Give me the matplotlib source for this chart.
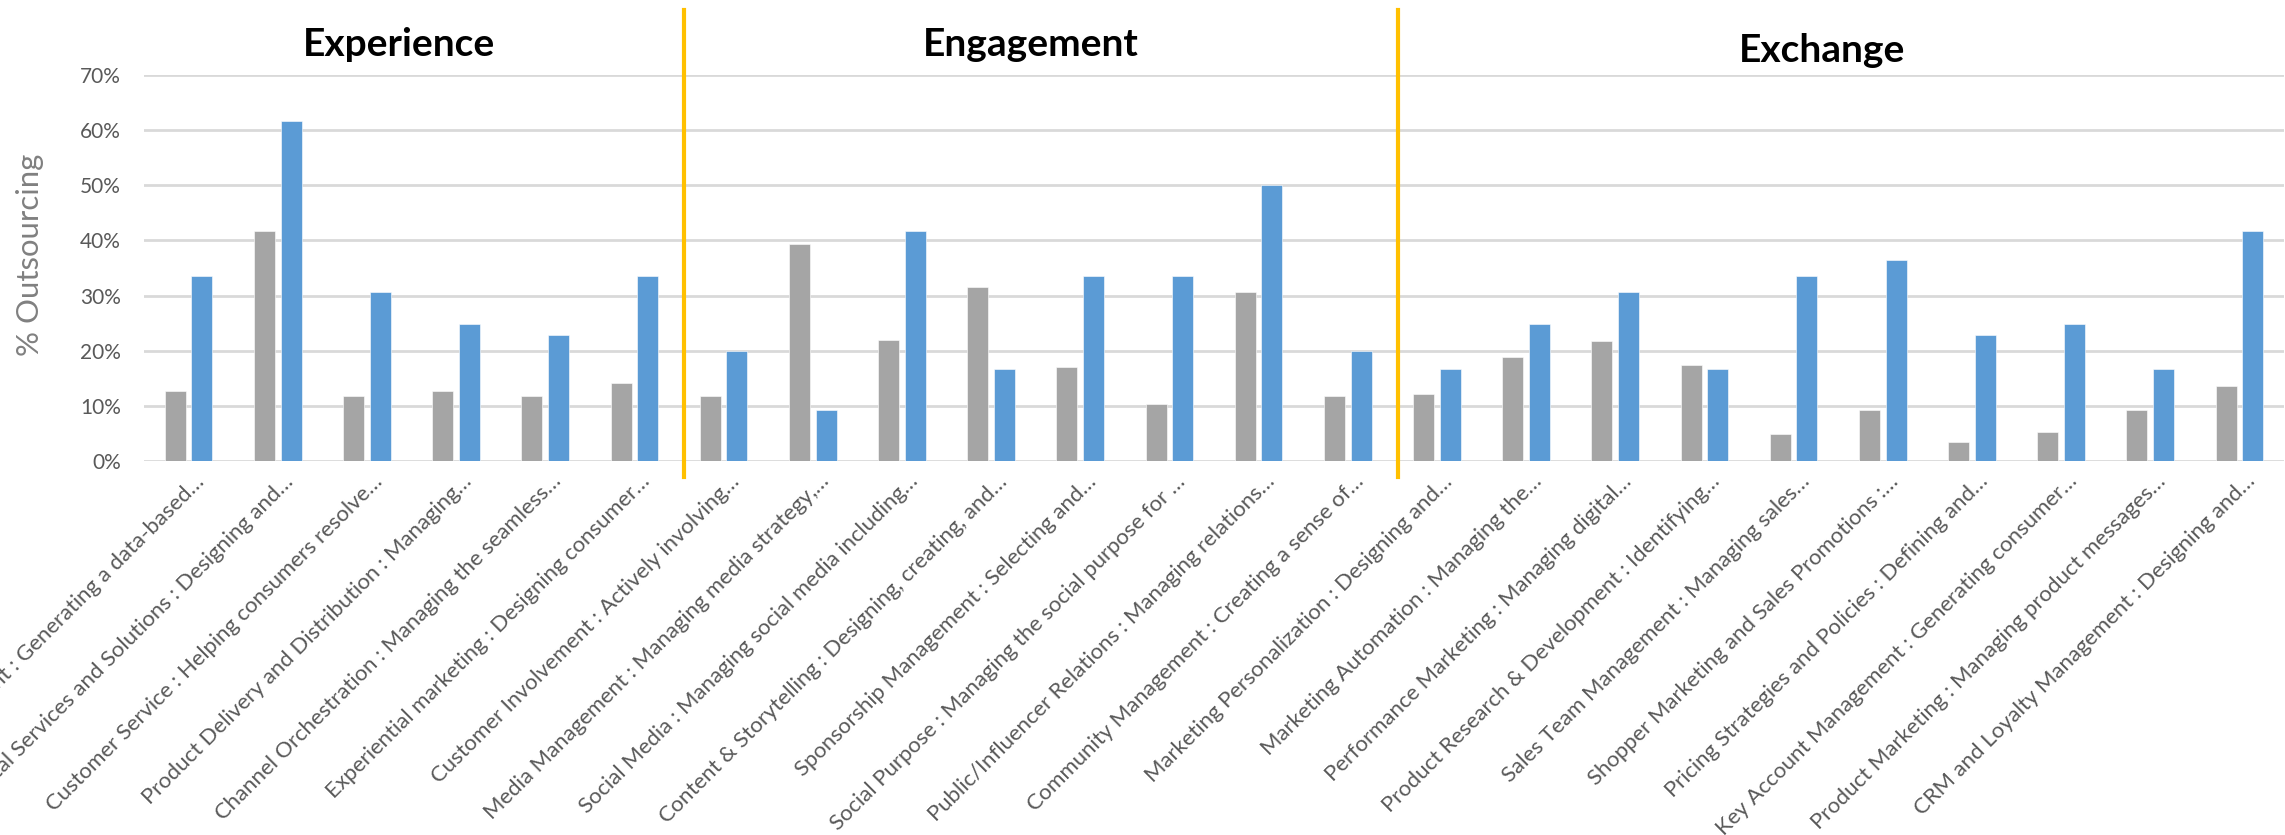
import matplotlib
matplotlib.use("Agg")
import matplotlib.pyplot as plt
import matplotlib.transforms as mtransforms
from matplotlib.lines import Line2D
from matplotlib.ticker import PercentFormatter
import numpy as np

# ---------------- data ----------------
categories = [
    "Customer Journey Management : Generating a data-based…",
    "Digital Services and Solutions : Designing and…",
    "Customer Service : Helping consumers resolve…",
    "Product Delivery and Distribution : Managing…",
    "Channel Orchestration : Managing the seamless…",
    "Experiential marketing : Designing consumer…",
    "Customer Involvement : Actively involving…",
    "Media Management : Managing media strategy,…",
    "Social Media : Managing social media including…",
    "Content & Storytelling : Designing, creating, and…",
    "Sponsorship Management : Selecting and…",
    "Social Purpose : Managing the social purpose for …",
    "Public/Influencer Relations : Managing relations…",
    "Community Management : Creating a sense of…",
    "Marketing Personalization : Designing and…",
    "Marketing Automation : Managing the…",
    "Performance Marketing : Managing digital…",
    "Product Research & Development : Identifying…",
    "Sales Team Management : Managing sales…",
    "Shopper Marketing and Sales Promotions :…",
    "Pricing Strategies and Policies : Defining and…",
    "Key Account Management : Generating consumer…",
    "Product Marketing : Managing product messages…",
    "CRM and Loyalty Management : Designing and…",
]
series_gray = [12.7, 41.8, 11.8, 12.7, 11.8, 14.1,
               11.8, 39.4, 21.9, 31.6, 17.1, 10.3, 30.7, 11.8,
               12.1, 18.9, 21.8, 17.5, 4.9, 9.2, 3.4, 5.3, 9.2, 13.6]
series_blue = [33.5, 61.6, 30.7, 24.8, 22.9, 33.5,
               20.0, 9.3, 41.8, 16.6, 33.5, 33.5, 50.0, 20.0,
               16.6, 24.8, 30.6, 16.6, 33.5, 36.4, 22.9, 24.8, 16.6, 41.8]
group_names = ["Experience", "Engagement", "Exchange"]
group_sizes = [6, 8, 10]
y_ticks = [0, 10, 20, 30, 40, 50, 60, 70]
y_label = "% Outsourcing"

# ---------------- style ----------------
GRAY = "#A5A5A5"
BLUE = "#5B9BD5"
GRID = "#D9D9D9"
TXT = "#595959"
YELLOW = "#FFC000"
FONT = "Lato"

W, H, DPI = 2285, 835, 100
fig = plt.figure(figsize=(W / DPI, H / DPI), dpi=DPI)
renderer = fig.canvas.get_renderer()


def text_width(s, size, **kw):
    t = fig.text(0, 0, s, fontsize=size, family=FONT, **kw)
    w = t.get_window_extent(renderer).width
    t.remove()
    return w


# font sizes fitted to the text lengths measured on the reference (pixels)
lab_size = 0.5 * (15 * 469 / text_width(categories[2], 15)
                  + 15 * 470 / text_width(categories[23], 15))
tick_size = 15 * 41 / text_width("70%", 15)
ylab_size = 26 * 202 / text_width(y_label, 26)

ax = fig.add_axes([144 / W, 1 - 461 / H, (2284 - 144) / W, (461 - 75) / H])

x = np.arange(len(categories))
bw = 0.235
off = 0.15
ax.bar(x - off, np.array(series_gray) / 100, width=bw, color=GRAY,
       edgecolor="white", linewidth=0.4, zorder=3)
ax.bar(x + off, np.array(series_blue) / 100, width=bw, color=BLUE,
       edgecolor="white", linewidth=0.4, zorder=3)

ax.set_xlim(-0.5, len(categories) - 0.5)
ax.set_ylim(0, 0.70)
ax.set_yticks(np.array(y_ticks) / 100)
ax.yaxis.set_major_formatter(PercentFormatter(1.0, decimals=0))
ax.grid(axis="y", color=GRID, linewidth=2.0, zorder=0)
ax.set_axisbelow(True)
for s in ax.spines.values():
    s.set_visible(False)
ax.tick_params(axis="both", length=0, colors=TXT)
ax.tick_params(axis="y", pad=16.5, labelsize=tick_size)
for lab in ax.get_yticklabels():
    lab.set_fontfamily(FONT)

ax.set_xticks(x)
ax.set_xticklabels(categories, rotation=45, ha="right", va="baseline",
                   rotation_mode="anchor", fontsize=lab_size, family=FONT,
                   color=TXT)
ax.tick_params(axis="x", pad=15.5)
shift = mtransforms.ScaledTranslation(17 / DPI, 0, fig.dpi_scale_trans)
for lab in ax.get_xticklabels():
    lab.set_transform(lab.get_transform() + shift)

fig.text(30 / W, 1 - 255 / H, y_label, rotation=90, ha="center", va="center",
         fontsize=ylab_size, family=FONT, color="#808080")

# group separators and titles
blend = mtransforms.blended_transform_factory(ax.transData, fig.transFigure)
bounds = np.cumsum(group_sizes)[:-1] - 0.5 + 0.06
for b in bounds:
    fig.add_artist(Line2D([b, b], [1 - 10 / H, 1 - 477 / H], transform=blend,
                          color=YELLOW, linewidth=3))
starts = np.concatenate([[0], np.cumsum(group_sizes)[:-1]])
title_dx = [-0.14, -0.05, -0.18]
title_y = [1 - 44 / H, 1 - 45 / H, 1 - 50 / H]
for name, s0, n, dx, ty in zip(group_names, starts, group_sizes, title_dx, title_y):
    cx = s0 + (n - 1) / 2 + dx
    fig.text(cx, ty, name, transform=blend, ha="center", va="center",
             fontsize=28, fontweight="bold", family=FONT, color="black")

fig.savefig("out.png", dpi=DPI)
